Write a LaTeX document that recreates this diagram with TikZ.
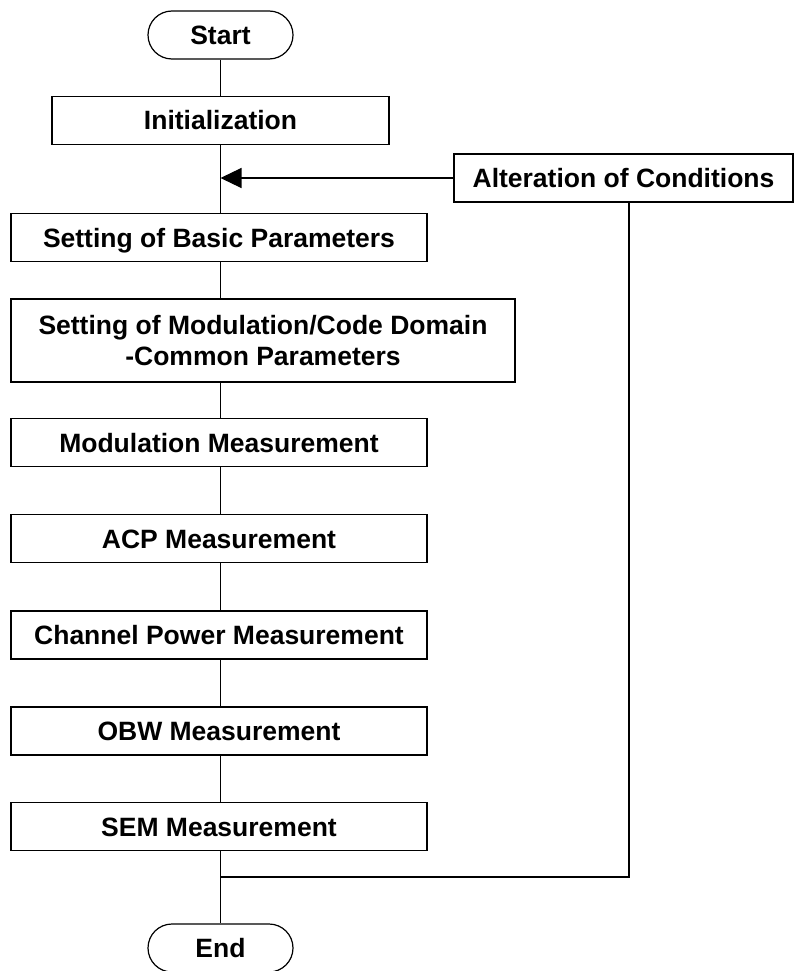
\documentclass[tikz,border=0pt]{standalone}
\usepackage{fontspec}
\setmainfont{Liberation Sans}
\usetikzlibrary{arrows.meta}
\begin{document}
\begin{tikzpicture}[x=1pt,y=-1pt,
  base/.style={draw, line width=1.2pt, inner sep=0pt, align=center,
    font=\fontsize{26.5}{31}\selectfont\bfseries},
  box/.style={base, minimum height=48pt, text height=24pt, text depth=5pt},
  wbox/.style={box, minimum width=416pt},
  term/.style={box, rounded corners=24pt, minimum width=145pt},
  conn/.style={line width=1.2pt}]
\useasboundingbox (0,0) rectangle (794,971);
\node[term] (start) at (220.5,35) {Start};
\node[box, minimum width=337pt] (init) at (220.5,120.5) {Initialization};
\node[box, minimum width=339pt] (alter) at (623.5,178) {Alteration of Conditions};
\node[wbox] (basic) at (219,237.5) {Setting of Basic Parameters};
\node[base, minimum width=504pt, minimum height=83pt] (modcode) at (263,340.5)
  {Setting of Modulation/Code Domain\\-Common Parameters};
\node[wbox] (modm) at (219,442.5) {Modulation Measurement};
\node[wbox] (acp) at (219,538.5) {ACP Measurement};
\node[wbox] (chp) at (219,635) {Channel Power Measurement};
\node[wbox] (obw) at (219,731) {OBW Measurement};
\node[wbox] (sem) at (219,826.5) {SEM Measurement};
\node[term] (end) at (220.5,948) {End};
\coordinate (j) at (220.5,877);
\coordinate (ra) at ([xshift=5.5pt]alter.south);
\draw[conn] (start) -- (init);
\draw[conn] (init.south) -- (init.south |- basic.north);
\draw[conn, -{Triangle[length=21pt,width=20pt]}] (alter.west) -- (init.south |- alter.west);
\draw[conn] (init.south |- basic.south) -- (init.south |- modcode.north);
\draw[conn] (init.south |- modcode.south) -- (init.south |- modm.north);
\draw[conn] (init.south |- modm.south) -- (init.south |- acp.north);
\draw[conn] (init.south |- acp.south) -- (init.south |- chp.north);
\draw[conn] (init.south |- chp.south) -- (init.south |- obw.north);
\draw[conn] (init.south |- obw.south) -- (init.south |- sem.north);
\draw[conn] (init.south |- sem.south) -- (end);
\draw[conn] (ra) |- (j);
\end{tikzpicture}
\end{document}
